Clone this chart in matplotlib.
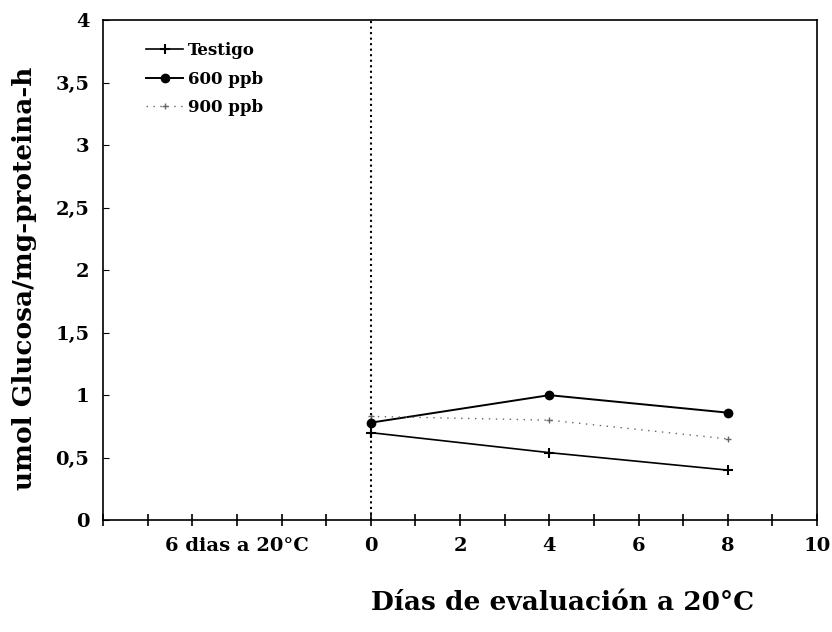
import matplotlib
matplotlib.use("Agg")
import matplotlib.pyplot as plt

plt.rcParams['font.family'] = ['DejaVu Serif']
plt.rcParams['font.weight'] = 'bold'

# data
dias = [0, 4, 8]
testigo = [0.70, 0.54, 0.40]
ppb600 = [0.78, 1.00, 0.86]
ppb900 = [0.83, 0.80, 0.65]

xtick_pos = list(range(-6, 11))
xtick_labels = ['', '', '', '6 dias a 20°C', '', '', '0', '', '2', '', '4', '', '6', '', '8', '', '10']
ytick_pos = [0, 0.5, 1, 1.5, 2, 2.5, 3, 3.5, 4]
ytick_labels = ['0', '0,5', '1', '1,5', '2', '2,5', '3', '3,5', '4']

fig = plt.figure(figsize=(8.32, 6.32), dpi=100)
ax = fig.add_axes([0.124, 0.177, 0.858, 0.791])

ax.plot(dias, testigo, color='black', lw=1.2, marker='+', markersize=7, mew=1.5, label='Testigo')
ax.plot(dias, ppb600, color='black', lw=1.4, marker='o', markersize=6, label='600 ppb')
ax.plot(dias, ppb900, color='#666666', lw=1.0, ls=(0, (1, 4)), marker='+', markersize=4, label='900 ppb')

# separation line between pre-evaluation and evaluation
ax.axvline(0, color='black', lw=1.5, ls=':')

ax.set_xlim(-6, 10)
ax.set_ylim(0, 4)
ax.set_xticks(xtick_pos)
ax.set_xticklabels(xtick_labels)
ax.set_yticks(ytick_pos)
ax.set_yticklabels(ytick_labels)

ax.tick_params(axis='x', direction='inout', length=9, width=1.2, labelsize=14, pad=8)
ax.tick_params(axis='y', direction='in', length=4, labelsize=14, pad=10)

for s in ax.spines.values():
    s.set_linewidth(1.2)

ax.set_xlabel('Días de evaluación a 20°C', fontsize=19, fontweight='bold')
ax.xaxis.set_label_coords(0.644, -0.14)
ax.set_ylabel('umol Glucosa/mg-proteina-h', fontsize=19, fontweight='bold')
ax.yaxis.set_label_coords(-0.092, 0.484)

ax.legend(loc='upper left', frameon=False, fontsize=12, handlelength=2.2,
          handletextpad=0.3, labelspacing=0.7, borderaxespad=0.9,
          bbox_to_anchor=(0.03, 1.0))

fig.savefig('out.png', dpi=100)
